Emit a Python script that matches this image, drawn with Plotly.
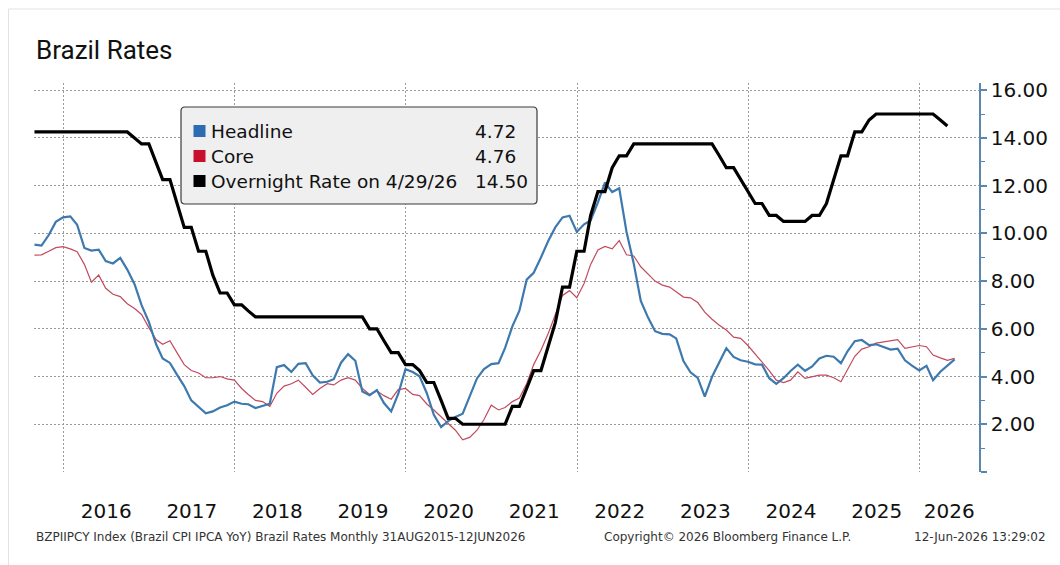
import pandas as pd
import plotly.graph_objects as go

# ---------------- data (monthly, month-end observations) ----------------
first_month = "2015-08-31"

headline = [
    9.53, 9.49, 9.93, 10.48, 10.67,
    10.71, 10.36, 9.39, 9.28, 9.32, 8.84, 8.74, 8.97, 8.48, 7.87, 6.99, 6.29,
    5.35, 4.76, 4.57, 4.08, 3.60, 3.00, 2.71, 2.46, 2.54, 2.70, 2.80, 2.95,
    2.86, 2.84, 2.68, 2.76, 2.86, 4.39, 4.48, 4.19, 4.53, 4.56, 4.05, 3.75,
    3.78, 3.89, 4.58, 4.94, 4.66, 3.37, 3.22, 3.43, 2.89, 2.54, 3.27, 4.31,
    4.19, 4.01, 3.30, 2.40, 1.88, 2.13, 2.31, 2.44, 3.14, 3.92, 4.31, 4.52,
    4.56, 5.20, 6.10, 6.76, 8.06, 8.35, 8.99, 9.68, 10.25, 10.67, 10.74, 10.06,
    10.38, 10.54, 11.30, 12.13, 11.73, 11.89, 10.07, 8.73, 7.17, 6.47, 5.90, 5.79,
    5.77, 5.60, 4.65, 4.18, 3.94, 3.16, 3.99, 4.61, 5.19, 4.82, 4.68, 4.62,
    4.51, 4.50, 3.93, 3.69, 3.93, 4.23, 4.50, 4.24, 4.42, 4.76, 4.87, 4.83,
    4.56, 5.06, 5.48, 5.53, 5.32, 5.35, 5.23, 5.13, 5.17, 4.68, 4.46, 4.26,
    4.45, 3.85, 4.20, 4.45, 4.72,
]

core = [
    9.09, 9.10, 9.25, 9.40, 9.44,
    9.35, 9.23, 8.70, 7.95, 8.25, 7.70, 7.45, 7.35, 7.05, 6.85, 6.60, 6.05,
    5.55, 5.35, 5.50, 5.00, 4.50, 4.25, 4.15, 3.95, 3.95, 4.00, 3.90, 3.85,
    3.50, 3.25, 3.00, 2.95, 2.75, 3.30, 3.60, 3.70, 3.85, 3.55, 3.25, 3.50,
    3.70, 3.65, 3.85, 3.95, 3.85, 3.50, 3.25, 3.40, 3.20, 3.05, 3.45, 3.50,
    3.25, 3.20, 2.85, 2.60, 2.30, 2.05, 1.75, 1.35, 1.45, 1.75, 2.20, 2.80,
    2.60, 2.70, 2.95, 3.10, 3.70, 4.50, 5.10, 5.80, 6.60, 7.40, 7.60, 7.30,
    7.90, 8.70, 9.30, 9.45, 9.35, 9.70, 9.10, 9.05, 8.60, 8.30, 8.00, 7.83,
    7.75, 7.55, 7.33, 7.30, 7.10, 6.70, 6.40, 6.15, 5.95, 5.65, 5.60, 5.30,
    4.95, 4.60, 4.25, 3.85, 3.75, 3.85, 4.20, 3.92, 4.00, 4.06, 4.06, 3.95,
    3.78, 4.30, 4.85, 5.15, 5.25, 5.40, 5.45, 5.50, 5.55, 5.18, 5.25, 5.30,
    5.25, 4.90, 4.78, 4.68, 4.76,
]

overnight = [
    14.25, 14.25, 14.25, 14.25, 14.25,
    14.25, 14.25, 14.25, 14.25, 14.25, 14.25, 14.25, 14.25, 14.25, 14.00, 13.75, 13.75,
    13.00, 12.25, 12.25, 11.25, 10.25, 10.25, 9.25, 9.25, 8.25, 7.50, 7.50, 7.00,
    7.00, 6.75, 6.50, 6.50, 6.50, 6.50, 6.50, 6.50, 6.50, 6.50, 6.50, 6.50,
    6.50, 6.50, 6.50, 6.50, 6.50, 6.50, 6.00, 6.00, 5.50, 5.00, 5.00, 4.50,
    4.50, 4.25, 3.75, 3.75, 3.00, 2.25, 2.25, 2.00, 2.00, 2.00, 2.00, 2.00,
    2.00, 2.00, 2.75, 2.75, 3.50, 4.25, 4.25, 5.25, 6.25, 7.75, 7.75, 9.25,
    9.25, 10.75, 11.75, 11.75, 12.75, 13.25, 13.25, 13.75, 13.75, 13.75, 13.75, 13.75,
    13.75, 13.75, 13.75, 13.75, 13.75, 13.75, 13.75, 13.25, 12.75, 12.75, 12.25, 11.75,
    11.25, 11.25, 10.75, 10.75, 10.50, 10.50, 10.50, 10.50, 10.75, 10.75, 11.25, 12.25,
    13.25, 13.25, 14.25, 14.25, 14.75, 15.00, 15.00, 15.00, 15.00, 15.00, 15.00, 15.00,
    15.00, 15.00, 14.75, 14.50,
]

series_names = ["Headline", "Core", "Overnight Rate on 4/29/26"]
y_tick_values = [0, 2, 4, 6, 8, 10, 12, 14, 16]
year_labels = list(range(2016, 2027))

title_text = "Brazil Rates"
footer_left = "BZPIIPCY Index (Brazil CPI IPCA YoY) Brazil Rates Monthly 31AUG2015-12JUN2026"
footer_mid = "Copyright\u00a9 2026 Bloomberg Finance L.P."
footer_right = "12-Jun-2026 13:29:02"

# ---------------- styling ----------------
BLUE_LINE = "#3d79ae"
RED_LINE = "#c24a5e"
BLUE_KEY = "#2b6cb3"
RED_KEY = "#c8102e"
AXIS_BLUE = "#5a87ad"
GRID = "#9a9a9a"
FONT = "DejaVu Sans"

W, H = 1060, 565
L, R, T, B = 34, 81, 83, 93
PW, PH = W - L - R, H - T - B

x_start = pd.Timestamp("2015-08-29")
x_end = pd.Timestamp("2026-09-12")


def px(xp):
    """pixel column -> paper x"""
    return (xp - L) / PW


def py(yp):
    """pixel row -> paper y"""
    return (H - B - yp) / PH


months = pd.date_range(first_month, periods=len(headline), freq="ME")
dates = [d.strftime("%Y-%m-%d") for d in months]

fig = go.Figure()
fig.add_trace(go.Scatter(x=dates[:len(core)], y=core, mode="lines",
                         line=dict(color=RED_LINE, width=1.2), name=series_names[1]))
fig.add_trace(go.Scatter(x=dates[:len(headline)], y=headline, mode="lines",
                         line=dict(color=BLUE_LINE, width=2.2), name=series_names[0]))
fig.add_trace(go.Scatter(x=dates[:len(overnight)], y=overnight, mode="lines",
                         line=dict(color="#000000", width=3.2), name=series_names[2]))

# year labels centred on the visible part of each year
year_pos = []
for yr in year_labels:
    a = max(pd.Timestamp(yr, 1, 1), x_start)
    b = min(pd.Timestamp(yr + 1, 1, 1), x_end)
    year_pos.append((a + (b - a) / 2).strftime("%Y-%m-%d %H:%M"))

grid_years = [f"{yr}-01-01" for yr in range(2016, 2027, 2)]

fig.update_xaxes(
    type="date",
    range=[x_start.strftime("%Y-%m-%d"), x_end.strftime("%Y-%m-%d")],
    tickmode="array", tickvals=year_pos, ticktext=[str(y) for y in year_labels],
    ticks="", showgrid=False, showline=False, zeroline=False,
    tickfont=dict(family=FONT, size=20, color="#111111"),
    ticklabelstandoff=25,
    minor=dict(tickmode="array", tickvals=grid_years, showgrid=True,
               gridcolor=GRID, griddash="2px,2px", gridwidth=1, ticks=""),
)

fig.update_yaxes(
    side="right", range=[0, 16.3],
    tickmode="array", tickvals=y_tick_values,
    ticktext=["" if v == 0 else f"{v:.2f}" for v in y_tick_values],
    ticks="outside", ticklen=6, tickwidth=2, tickcolor=AXIS_BLUE,
    showline=True, linecolor=AXIS_BLUE, linewidth=1.5,
    showgrid=True, gridcolor=GRID, griddash="2px,2px", gridwidth=1,
    zeroline=False,
    tickfont=dict(family=FONT, size=20, color="#111111"),
    minor=dict(tickmode="array", tickvals=list(range(1, 16, 2)), ticks="outside",
               ticklen=4, tickwidth=1, tickcolor=AXIS_BLUE, showgrid=False),
)

shapes = []
annotations = []

# card outline
shapes.append(dict(type="rect", xref="paper", yref="paper",
                   x0=px(8.5), x1=px(1100), y0=py(9), y1=py(620),
                   line=dict(color="#e3e3e3", width=1), fillcolor="rgba(0,0,0,0)",
                   layer="below"))

# legend panel with rounded corners
bx0, bx1, by0, by1, rr = 181, 537, 107, 204, 4
path = (f"M {px(bx0 + rr)},{py(by0)} L {px(bx1 - rr)},{py(by0)} "
        f"Q {px(bx1)},{py(by0)} {px(bx1)},{py(by0 + rr)} "
        f"L {px(bx1)},{py(by1 - rr)} Q {px(bx1)},{py(by1)} {px(bx1 - rr)},{py(by1)} "
        f"L {px(bx0 + rr)},{py(by1)} Q {px(bx0)},{py(by1)} {px(bx0)},{py(by1 - rr)} "
        f"L {px(bx0)},{py(by0 + rr)} Q {px(bx0)},{py(by0)} {px(bx0 + rr)},{py(by0)} Z")
shapes.append(dict(type="path", xref="paper", yref="paper", path=path,
                   fillcolor="#efefef", line=dict(color="#3a3a3a", width=1.2),
                   layer="above"))

legend_rows = [
    (series_names[0], headline[-1], BLUE_KEY, 131),
    (series_names[1], core[-1], RED_KEY, 156),
    (series_names[2], overnight[-1], "#000000", 181),
]
for name, val, col, yc in legend_rows:
    shapes.append(dict(type="rect", xref="paper", yref="paper",
                       x0=px(193.5), x1=px(205.5), y0=py(yc - 6), y1=py(yc + 6),
                       fillcolor=col, line=dict(width=0), layer="above"))
    annotations.append(dict(xref="paper", yref="paper", x=px(209), y=py(yc),
                            xanchor="left", yanchor="middle", showarrow=False,
                            text=name, font=dict(family=FONT, size=18.5, color="#111111")))
    annotations.append(dict(xref="paper", yref="paper", x=px(473), y=py(yc),
                            xanchor="left", yanchor="middle", showarrow=False,
                            text=f"{val:.2f}", font=dict(family=FONT, size=18.5, color="#111111")))

# title
annotations.append(dict(xref="paper", yref="paper", x=px(34), y=py(50),
                        xanchor="left", yanchor="middle", showarrow=False,
                        text=title_text, font=dict(family="Roboto", size=26, color="#111111")))

# footer
foot_font = dict(family=FONT, size=12, color="#333333")
annotations.append(dict(xref="paper", yref="paper", x=px(34), y=py(537),
                        xanchor="left", yanchor="middle", showarrow=False,
                        text=footer_left, font=foot_font))
annotations.append(dict(xref="paper", yref="paper", x=px(602), y=py(537),
                        xanchor="left", yanchor="middle", showarrow=False,
                        text=footer_mid, font=foot_font))
annotations.append(dict(xref="paper", yref="paper", x=px(1048), y=py(537),
                        xanchor="right", yanchor="middle", showarrow=False,
                        text=footer_right, font=foot_font))

fig.update_layout(
    width=W, height=H,
    margin=dict(l=L, r=R, t=T, b=B),
    paper_bgcolor="white", plot_bgcolor="white",
    showlegend=False,
    shapes=shapes, annotations=annotations,
)

fig.write_html("out.html")
